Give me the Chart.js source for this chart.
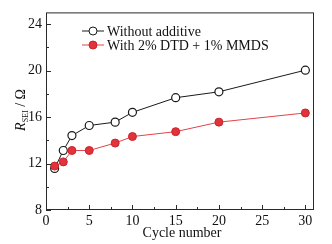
<!DOCTYPE html>
<html>
<head>
<meta charset="utf-8">
<script src="https://cdn.jsdelivr.net/npm/chart.js@4.4.0/dist/chart.umd.min.js"></script>
<style>
  html, body { margin: 0; padding: 0; background: #fff; }
  #wrap { width: 332px; height: 244px; }
</style>
</head>
<body>
<div id="wrap"><canvas id="rseiChart" width="332" height="244"></canvas></div>
<script>
// data
const cycles = [1, 2, 3, 5, 8, 10, 15, 20, 30];
const withoutAdditive = [11.58, 13.12, 14.4, 15.27, 15.56, 16.4, 17.66, 18.17, 20.03];
const withDtdMmds = [11.78, 12.14, 13.12, 13.12, 13.76, 14.32, 14.74, 15.56, 16.35];
const seriesNames = ['Without additive', 'With 2% DTD + 1% MMDS'];
const yTicks = [8, 10, 12, 14, 16, 18, 20, 22, 24];
const xTicks = [0, 2.5, 5, 7.5, 10, 12.5, 15, 17.5, 20, 22.5, 25, 27.5, 30];

const FONT = '"Liberation Serif", "Times New Roman", serif';
const AXIS = '#2a2a2a';

function toPoints(xs, ys) {
    return xs.map((x, i) => ({ x: x, y: ys[i] }));
}

// frame + inward ticks + axis titles + legend
const decorations = {
    id: 'decorations',
    afterDraw(chart) {
        const ctx = chart.ctx;
        const a = chart.chartArea;
        const xs = chart.scales.x, ys = chart.scales.y;
        ctx.save();
        ctx.strokeStyle = AXIS;
        ctx.lineWidth = 1;
        ctx.strokeRect(a.left + 0.5, a.top + 0.5, a.right - a.left - 1, a.bottom - a.top - 1);

        ctx.beginPath();
        xs.ticks.forEach(t => {
            const px = Math.round(xs.getPixelForValue(t.value)) + 0.5;
            const len = t.value % 5 === 0 ? 5 : 3;
            ctx.moveTo(px, a.bottom);
            ctx.lineTo(px, a.bottom - len);
        });
        ys.ticks.forEach(t => {
            const py = Math.round(ys.getPixelForValue(t.value)) + 0.5;
            const len = t.value % 4 === 0 ? 5 : 3;
            ctx.moveTo(a.left, py);
            ctx.lineTo(a.left + len, py);
        });
        ctx.stroke();

        // x title
        ctx.fillStyle = '#111';
        ctx.font = '14px ' + FONT;
        ctx.textAlign = 'center';
        ctx.textBaseline = 'middle';
        ctx.fillText('Cycle number', (a.left + a.right) / 2 + 2, 233);

        // y title: R_SEI / Ω
        ctx.save();
        ctx.translate(20, 110);
        ctx.rotate(-Math.PI / 2);
        ctx.textAlign = 'left';
        ctx.textBaseline = 'alphabetic';
        const parts = [
            { t: 'R', f: 'italic 14px ' + FONT, dy: 0 },
            { t: 'SEI', f: '8px ' + FONT, dy: 3 },
            { t: ' / Ω', f: '14px ' + FONT, dy: 0 }
        ];
        let w = 0;
        parts.forEach(p => { ctx.font = p.f; w += ctx.measureText(p.t).width; });
        let cx = -w / 2;
        parts.forEach(p => {
            ctx.font = p.f;
            ctx.fillText(p.t, cx, 5 + p.dy);
            cx += ctx.measureText(p.t).width;
        });
        ctx.restore();

        // legend
        ctx.font = '14px ' + FONT;
        ctx.textAlign = 'left';
        ctx.textBaseline = 'middle';
        chart.data.datasets.forEach((ds, i) => {
            const y = 31 + i * 14;
            ctx.strokeStyle = ds.borderColor;
            ctx.lineWidth = 1;
            ctx.beginPath();
            ctx.moveTo(82, y);
            ctx.lineTo(104, y);
            ctx.stroke();
            ctx.beginPath();
            ctx.arc(93, y, ds.pointRadius, 0, Math.PI * 2);
            ctx.fillStyle = ds.pointBackgroundColor;
            ctx.fill();
            ctx.strokeStyle = ds.pointBorderColor;
            ctx.stroke();
            ctx.fillStyle = '#111';
            ctx.fillText(ds.label, 107, y + 1);
        });
        ctx.restore();
    }
};

const ctx = document.getElementById('rseiChart').getContext('2d');
const rseiChart = new Chart(ctx, {
    type: 'line',
    data: {
        datasets: [{
            label: seriesNames[0],
            data: toPoints(cycles, withoutAdditive),
            borderColor: '#1a1a1a',
            borderWidth: 1,
            pointRadius: 4,
            pointBackgroundColor: '#ffffff',
            pointBorderColor: '#1a1a1a',
            pointBorderWidth: 1.2,
            order: 1
        }, {
            label: seriesNames[1],
            data: toPoints(cycles, withDtdMmds),
            borderColor: '#e0444a',
            borderWidth: 1,
            pointRadius: 4,
            pointBackgroundColor: '#e2323a',
            pointBorderColor: '#c8242c',
            pointBorderWidth: 1,
            order: 0
        }]
    },
    options: {
        responsive: false,
        animation: false,
        layout: { padding: { top: 8, right: 18, left: 0, bottom: 0 } },
        plugins: {
            legend: { display: false },
            tooltip: { enabled: false }
        },
        scales: {
            x: {
                type: 'linear',
                min: 0,
                max: 31,
                afterBuildTicks: s => { s.ticks = xTicks.map(v => ({ value: v })); },
                afterFit: s => { s.height = 34; },
                grid: { display: false, drawTicks: false },
                border: { display: false },
                ticks: {
                    autoSkip: false,
                    maxRotation: 0,
                    padding: 3,
                    color: '#111',
                    font: { family: FONT, size: 14 },
                    callback: v => (v % 5 === 0 ? v : '')
                }
            },
            y: {
                min: 8,
                max: 25,
                afterBuildTicks: s => { s.ticks = yTicks.map(v => ({ value: v })); },
                afterFit: s => { s.width = 46; },
                grid: { display: false, drawTicks: false },
                border: { display: false },
                ticks: {
                    autoSkip: false,
                    padding: 4,
                    color: '#111',
                    font: { family: FONT, size: 14 },
                    callback: v => (v % 4 === 0 ? v : '')
                }
            }
        }
    },
    plugins: [decorations]
});
</script>
</body>
</html>
